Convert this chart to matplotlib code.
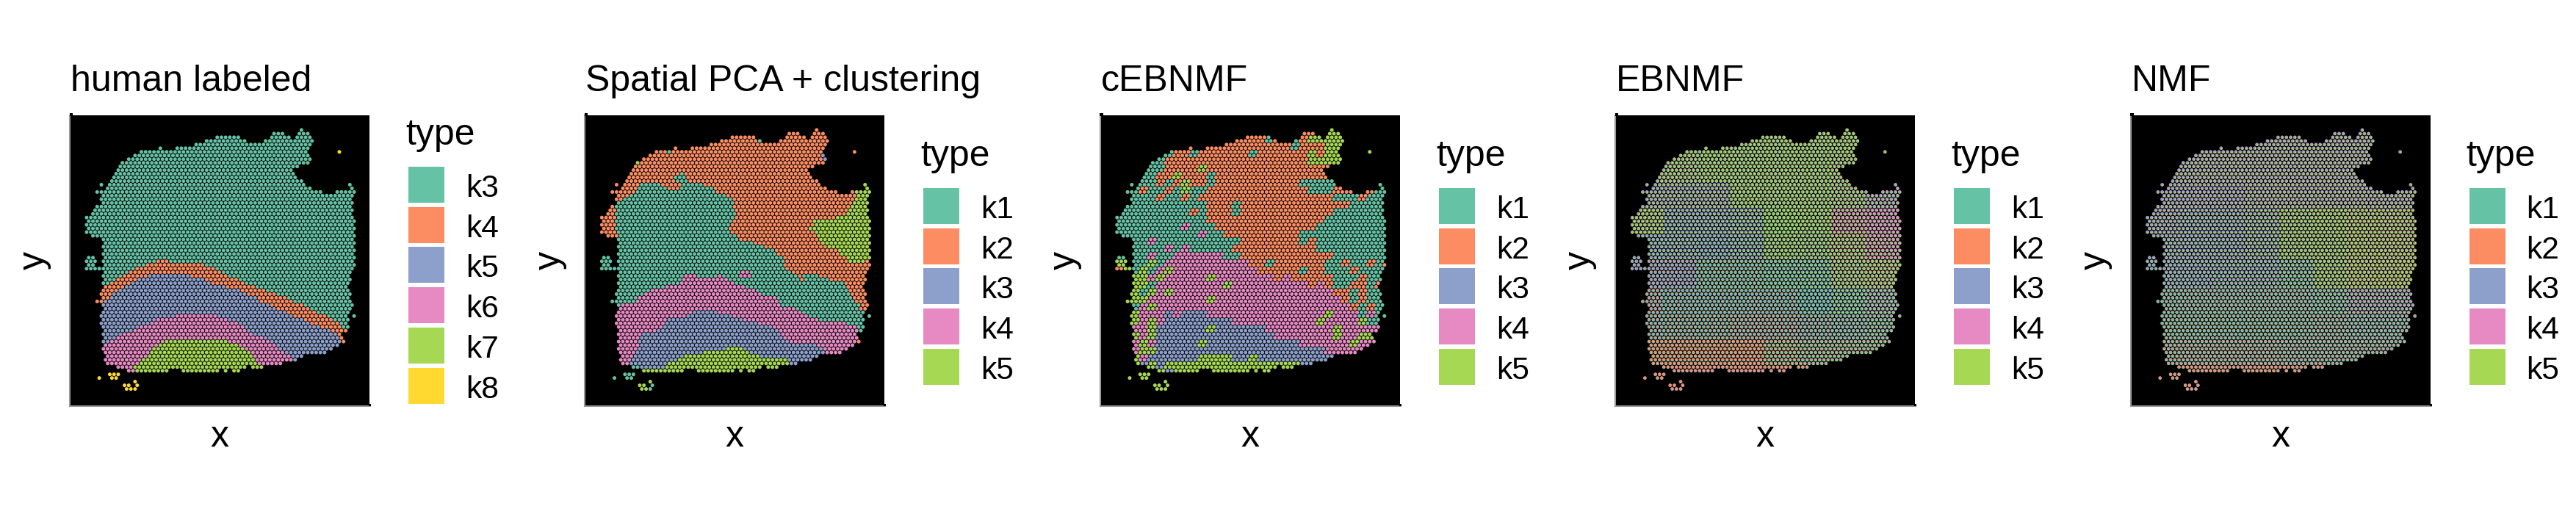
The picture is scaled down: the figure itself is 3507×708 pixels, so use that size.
import math
import matplotlib
matplotlib.use("Agg")
import matplotlib.pyplot as plt
from matplotlib.collections import PatchCollection
from matplotlib.patches import Rectangle, Wedge, Circle

plt.rcParams["font.family"] = ["Liberation Sans", "DejaVu Sans"]

W, H, DPI = 3507, 708, 300
SQ3 = math.sqrt(3)

TITLES = ["human labeled", "Spatial PCA + clustering", "cEBNMF", "EBNMF", "NMF"]
HUMAN_KEYS = ["k3", "k4", "k5", "k6", "k7", "k8"]
FACTOR_KEYS = ["k1", "k2", "k3", "k4", "k5"]
COLORS = ["#66C2A5", "#FC8D62", "#8DA0CB", "#E78AC3", "#A6D854", "#FFD92F"]

# Spots: for each array row, inclusive column spans (hex lattice: every 2nd column)
ROW_SPANS = [
    [(103, 103)], [(90, 94), (102, 106)], [(63, 73), (89, 97), (101, 107)], [(58, 76), (86, 108)],
    [(53, 107)], [(36, 36), (44, 106)], [(27, 105), (121, 121)], [(24, 106)], [(21, 107)], [(18, 106)],
    [(17, 101)], [(16, 98)], [(15, 99)], [(14, 100)], [(13, 103)], [(8, 8), (12, 104), (126, 126)],
    [(11, 105), (107, 107), (127, 127)], [(6, 6), (8, 8), (10, 112), (120, 128)], [(9, 127)], [(8, 126)],
    [(9, 127)], [(6, 126)], [(5, 127)], [(4, 126)], [(1, 127)], [(2, 128)], [(1, 127)], [(2, 128)],
    [(1, 127)], [(4, 128)], [(9, 127)], [(10, 128)], [(9, 127)], [(10, 128)], [(9, 127)],
    [(2, 4), (10, 128)], [(1, 5), (9, 127)], [(2, 4), (10, 128)], [(1, 7), (9, 127)], [(10, 126)],
    [(9, 125)], [(10, 126)], [(9, 125)], [(10, 124)], [(9, 125)], [(8, 126)], [(9, 125)],
    [(6, 6), (8, 8), (10, 126)], [(9, 127)], [(10, 126)], [(9, 125)], [(8, 124), (128, 128)], [(9, 125)],
    [(8, 124)], [(9, 125)], [(10, 124)], [(9, 121)], [(10, 122)], [(9, 123)], [(10, 120)], [(9, 117)],
    [(10, 114)], [(11, 103)], [(10, 100)], [(11, 93)], [(16, 76), (80, 84)],
    [(21, 39), (47, 63), (67, 67), (71, 73)], [(12, 16)], [(7, 7), (13, 15)], [(24, 24)],
    [(19, 21), (25, 25)], [(20, 24)],
]

# Human labels: per row, (legend index, last column of the run)
HUMAN_RUNS = {
    6: [(0, 120), (5, 999)], 36: [(0, 33), (1, 39), (0, 999)], 37: [(0, 28), (1, 56), (0, 999)],
    38: [(0, 24), (1, 61), (0, 999)], 39: [(0, 20), (1, 64), (0, 999)],
    40: [(0, 17), (1, 29), (2, 49), (1, 67), (0, 999)], 41: [(0, 14), (1, 24), (2, 56), (1, 72), (0, 999)],
    42: [(0, 11), (1, 21), (2, 59), (1, 75), (0, 999)], 43: [(1, 18), (2, 66), (1, 80), (0, 999)],
    44: [(1, 15), (2, 73), (1, 85), (0, 999)], 45: [(1, 12), (2, 76), (1, 90), (0, 999)],
    46: [(1, 11), (2, 81), (1, 95), (0, 999)], 47: [(1, 8), (2, 82), (1, 98), (0, 999)],
    48: [(2, 87), (1, 103), (0, 999)], 49: [(2, 90), (1, 106), (0, 999)],
    50: [(2, 95), (1, 109), (0, 999)], 51: [(2, 43), (3, 62), (2, 98), (1, 114), (0, 999)],
    52: [(2, 34), (3, 67), (2, 103), (1, 117), (0, 999)], 53: [(2, 31), (3, 72), (2, 106), (1, 120), (0, 999)],
    54: [(2, 26), (3, 75), (2, 111), (1, 121), (0, 999)], 55: [(2, 23), (3, 76), (2, 116), (1, 999)],
    56: [(2, 18), (3, 79), (2, 119), (1, 999)], 57: [(2, 15), (3, 84), (2, 120), (1, 999)],
    58: [(2, 12), (3, 37), (4, 67), (3, 87), (2, 121), (1, 999)], 59: [(3, 34), (4, 72), (3, 90), (2, 999)],
    60: [(3, 31), (4, 75), (3, 91), (2, 999)], 61: [(3, 30), (4, 78), (3, 94), (2, 999)],
    62: [(3, 29), (4, 79), (3, 97), (2, 999)], 63: [(3, 26), (4, 80), (3, 98), (2, 999)],
    64: [(3, 25), (4, 81), (3, 999)], 65: [(3, 23), (4, 999)], 66: [(3, 23), (4, 999)],
    67: [(5, 999)], 68: [(5, 999)], 69: [(5, 999)], 70: [(5, 999)], 71: [(5, 999)],
}

# Spatial PCA clusters, same encoding
PCA_RUNS = {
    12: [(1, 38), (0, 40), (1, 999)], 13: [(1, 35), (0, 41), (1, 999)], 14: [(1, 36), (0, 42), (1, 999)],
    15: [(1, 19), (0, 28), (1, 38), (0, 49), (1, 125), (4, 999)], 16: [(1, 18), (0, 32), (1, 38), (0, 53), (1, 125), (4, 999)],
    17: [(1, 17), (0, 55), (1, 121), (4, 999)], 18: [(1, 13), (0, 60), (1, 122), (4, 999)],
    19: [(1, 10), (0, 62), (1, 121), (4, 999)], 20: [(1, 8), (0, 63), (1, 120), (4, 999)],
    21: [(1, 7), (0, 63), (1, 119), (4, 999)], 22: [(1, 7), (0, 64), (1, 118), (4, 999)],
    23: [(1, 7), (0, 64), (1, 117), (4, 999)], 24: [(1, 7), (0, 64), (1, 112), (4, 999)],
    25: [(1, 7), (0, 63), (1, 101), (4, 999)], 26: [(1, 7), (0, 61), (1, 101), (4, 999)],
    27: [(1, 7), (0, 60), (1, 99), (4, 999)], 28: [(1, 7), (0, 61), (1, 102), (4, 999)],
    29: [(1, 9), (0, 64), (1, 103), (4, 999)], 30: [(0, 66), (1, 104), (4, 999)], 31: [(0, 72), (1, 105), (4, 999)],
    32: [(0, 78), (1, 108), (4, 999)], 33: [(0, 82), (1, 113), (4, 999)], 34: [(0, 84), (1, 114), (4, 999)],
    35: [(0, 86), (1, 117), (4, 999)], 36: [(0, 87), (1, 118), (4, 125), (1, 999)], 37: [(0, 87), (1, 999)],
    38: [(0, 88), (1, 999)], 39: [(0, 67), (3, 70), (0, 91), (1, 999)],
    40: [(0, 40), (3, 45), (0, 56), (3, 57), (0, 66), (3, 71), (0, 94), (1, 96), (0, 103), (1, 999)],
    41: [(0, 38), (3, 61), (0, 95), (1, 96), (0, 108), (1, 999)], 42: [(0, 37), (3, 64), (0, 115), (1, 999)],
    43: [(0, 31), (3, 68), (0, 116), (1, 999)], 44: [(0, 24), (3, 74), (0, 118), (1, 999)],
    45: [(0, 20), (3, 76), (0, 119), (1, 999)], 46: [(0, 18), (3, 84), (0, 120), (1, 999)],
    47: [(0, 16), (3, 85), (0, 121), (1, 999)], 48: [(0, 10), (3, 86), (0, 123), (1, 999)],
    49: [(0, 9), (3, 92), (0, 122), (1, 999)], 50: [(3, 43), (2, 56), (3, 96), (0, 999)],
    51: [(3, 41), (2, 63), (3, 99), (0, 999)], 52: [(3, 32), (2, 68), (3, 104), (0, 999)],
    53: [(3, 31), (2, 75), (3, 116), (0, 999)], 54: [(3, 30), (2, 81), (3, 121), (0, 999)],
    55: [(3, 27), (2, 84), (3, 122), (0, 999)], 56: [(3, 19), (2, 85), (3, 999)], 57: [(3, 18), (2, 86), (3, 999)],
    58: [(3, 18), (2, 90), (3, 122), (1, 999)], 59: [(3, 18), (2, 102), (3, 999)],
    60: [(3, 17), (2, 59), (4, 68), (2, 105), (3, 999)], 61: [(3, 16), (2, 48), (4, 71), (2, 107), (3, 999)],
    62: [(3, 15), (2, 40), (4, 75), (2, 105), (3, 999)], 63: [(3, 14), (2, 37), (4, 89), (2, 999)],
    64: [(3, 13), (2, 32), (4, 89), (2, 999)], 65: [(0, 18), (2, 31), (4, 999)], 66: [(4, 999)],
    67: [(0, 999)], 68: [(0, 999)], 69: [(4, 999)], 70: [(4, 24), (0, 999)], 71: [(4, 23), (0, 999)],
}
PCA_DEFAULT = 1
PCA_SINGLES = [(3, 76, 0), (6, 33, 0), (7, 106, 2), (8, 107, 2), (9, 18, 4)]

# cEBNMF: estimated dominant factor in blocks of 2 rows x 4 columns
CEBNMF_BLOCKS = [
    "......................OO.GGG.....",
    "..............OOOOTOOTOGGGGGG....",
    ".......O..OOOOOOOOOOOTOOOGGGG....",
    "......TOOTOOOOOOTOOOOOOGOGG......",
    "....TTOOOOOOOOOOOOOOOOOGG........",
    "...TTTOOOOGOOOOOOOOOOOO..........",
    "...TTOOGOOOTOOOOOOOOOOO..........",
    "..TTTOTOGOOTOOOOOOOOOOTT.......T.",
    ".TTOTTOTGTTOOOOOOOOOOOOTTTO...OTT",
    "..TTTOTTOTOOOOOOOOOOOOOOOOTTTOTTT",
    "..TTTTTTTTTOOOTOOOOOOOOOOOOOTTTTT",
    "TTTTTTTTTOTOOOTOOOOOOOOOOOTTTTTTT",
    "TTTTTTTTTTTOOOOOOOOOOOOOOTTTTTTTT",
    "TTTTTTTTPTTTOOOOOOOOOOOOTTTTTTTTT",
    "TTTTTTTTTTPTTOOOOOOOOOTTTTTTTTTTT",
    "..TTPTTTTTTTTTTOOOOOOOTOTTTTTTTTT",
    "..TTTTPTPTTTTTOOOOOOOOOOTTTTTTTTT",
    "TT.TPTTPPPPPPTTOOOOOOOOOOOTTTTTTT",
    "GGTTGTPPPPPPPPPPOOTOOOOOOTTOTTOTO",
    "OGTGTPGPPPPPPPPPPOOOOOTOOTTTOTTTO",
    "...GPGPPPPPGPPPPPPPOPOOOOOTTTOTTO",
    "...GTPPPPPPPPGPPPPPPPPPOPOTTOOTO.",
    "..GTGPGPPPPPPPPPPPPPPPPPPPOOTOTT.",
    "..GGPPPPPPPGPPPPPPPPPPPPPPPOTOTT.",
    "..TPGPPPPPPPPPPPPPPPPPPPPPPPOTOTT",
    "..GPPPBPBBBPPPPPPPPPPPPPPGPPPTPTT",
    "..GPGPBBBBBBBBPPPPPPPPPPGPPPPGTT.",
    "..PPGBBBBBBGBBBBBBPPPPPPPPGPPPP..",
    "..GPGBBBBBBBBBBBBBBPPPPPPPGPPG...",
    "..PGPBBBBBGBBBBBBBBBBBPPPPPPGP...",
    "..PGGBBBBBBBBBBBBBBBBBBBBPPP.....",
    "..GPBBBBBBGGGGBBGBBBBBBBB........",
    "..GBGBGGGGGGGGGGGGGGGGBBB........",
    ".GGGGGBGGGGGGGGGGG...............",
    ".GGGGG...........................",
    ".GGGGGG..........................",
]
LETTERS = "TOBPG"

# EBNMF and NMF: estimated mean loadings (tenths) in 10 x 8 zones of the slide
EB_K1 = ["11111111", "11111111", "11111111", "12222211", "22332211", "33444311", "35555532", "45544543", "33333333", "22222222"]
EB_K2 = ["00000000", "00000000", "11100000", "11110010", "11111000", "22221000", "32222000", "33333211", "44443222", "55555555"]
EB_K3 = ["33333333", "33333333", "44433333", "35542222", "55543322", "44333332", "22222333", "21111122", "11100111", "11111111"]
EB_K4 = ["11111111", "22111122", "11111123", "10000135", "00000134", "11000123", "21111112", "11122222", "11122222", "22222222"]
EB_K5 = ["55555555", "44555544", "33355543", "42235532", "22124443", "00112344", "00000133", "00000012", "11112222", "00000000"]
NMF_K1 = ["11111111", "11111111", "11111111", "22222211", "22222211", "33333211", "43333322", "44444333", "33333333", "22222222"]
NMF_K2 = ["11111111", "11111111", "11111111", "11111111", "11111111", "11111111", "22222111", "22222211", "33332222", "44444444"]
NMF_K3 = ["33333333", "33333333", "44433333", "44433222", "45543322", "44443322", "33333333", "22222222", "22222222", "22222222"]
NMF_K4 = ["22222222", "22222222", "22222222", "21111122", "11111122", "11111122", "11111122", "11111222", "22222222", "22222222"]
NMF_K5 = ["33333333", "33333333", "22233333", "22234443", "22234443", "11222444", "11111222", "11111111", "11111111", "11111111"]

spots = [(r, c) for r, spans in enumerate(ROW_SPANS) for a, b in spans for c in range(a, b + 1, 2)]


def run_label(table, default, r, c):
    for lab, last in table.get(r, [(default, 999)]):
        if c <= last:
            return lab
    return default


def block_label(r, c):
    row = CEBNMF_BLOCKS[r // 2]
    i = min(c // 4, len(row) - 1)
    for d in range(len(row)):
        for j in (i - d, i + d):
            if 0 <= j < len(row) and row[j] != ".":
                return LETTERS.index(row[j])
    return 0


def human_labels():
    return [run_label(HUMAN_RUNS, 0, r, c) for r, c in spots]


def pca_labels():
    singles = {(r, c): lab for r, c, lab in PCA_SINGLES}
    return [singles.get((r, c), run_label(PCA_RUNS, PCA_DEFAULT, r, c)) for r, c in spots]


def zone_shares(grids, r, c):
    zr = min(r * 10 // 72, 9)
    zc = min(c // 16, 7)
    return [int(g[zr][zc]) for g in grids]


fig = plt.figure(figsize=(W / DPI, H / DPI), dpi=DPI, facecolor="white")
PERIOD = 701.4
PX_PER_UNIT = 2.867
GREY = "#9a9a9a"
PIE_R = 0.78


def fx(px):
    return px / W


def fy(px):
    return 1 - px / H


def frect(x0, y0, x1, y1, color, z=1):
    fig.add_artist(Rectangle((fx(x0), fy(y1)), (x1 - x0) / W, (y1 - y0) / H, transform=fig.transFigure,
                             facecolor=color, edgecolor="none", zorder=z))


def draw_panel(i, title, keys, labels=None, shares=None):
    left = 95 + PERIOD * i
    right, top, bottom = left + 408, 157, 553
    ax = fig.add_axes([fx(left), fy(bottom), 408 / W, (bottom - top) / H], facecolor="black")
    ax.set_xlim(-7.0, -7.0 + 408 / PX_PER_UNIT)
    ax.set_ylim((bottom - 177) / PX_PER_UNIT, (top - 177) / PX_PER_UNIT)
    ax.set_xticks([])
    ax.set_yticks([])
    for s in ("top", "right"):
        ax.spines[s].set_visible(False)
    for s in ("left", "bottom"):
        ax.spines[s].set_color(GREY)
        ax.spines[s].set_linewidth(0.5)
    xs = [c for r, c in spots]
    ys = [r * SQ3 for r, c in spots]
    if labels is not None:
        ax.scatter(xs, ys, s=1.45, c=[COLORS[k] for k in labels], edgecolors="none", linewidths=0)
    else:
        base, basecols, patches, cols = [], [], [], []
        for (r, c), x, y in zip(spots, xs, ys):
            vals = zone_shares(shares, r, c)
            tot = sum(vals)
            base.append(Circle((x, y), PIE_R))
            basecols.append(COLORS[vals.index(max(vals))])
            start = 90.0
            for k, v in enumerate(vals):
                if v:
                    sweep = 360.0 * v / tot
                    patches.append(Wedge((x, y), PIE_R, start, start + sweep))
                    cols.append(COLORS[k])
                    start += sweep
        ax.add_collection(PatchCollection(base, facecolors=basecols, edgecolors="none", linewidths=0))
        ax.add_collection(PatchCollection(patches, facecolors=cols, edgecolors="none", linewidths=0))
    # small corner stubs where the black panel pokes past the axis lines
    frect(left - 0.5, 154.3, left + 4, 157.5, "black", 3)
    frect(right - 1, 549.5, right + 2, 552.7, "black", 3)
    frect(right - 1, 552.5, right + 2, 554, GREY, 3)
    fig.text(fx(left + 1), fy(124), title, fontsize=12, ha="left", va="baseline", color="black")
    fig.text(fx(left + 204), fy(608), "x", fontsize=12, ha="center", va="baseline", color="black")
    fig.text(fx(left - 48), fy(355), "y", fontsize=12, rotation=90, ha="center", va="center", color="black")
    n = len(keys)
    first = 502 - 55 * (n - 1) if n == 6 else 256
    fig.text(fx(left + 457), fy(first - 30), "type", fontsize=12, ha="left", va="baseline", color="black")
    for j, key in enumerate(keys):
        y0 = first + 54.7 * j
        frect(left + 461, y0, left + 510, y0 + 49, COLORS[j])
        fig.text(fx(left + 539), fy(y0 + 41), key, fontsize=10.2, ha="left", va="baseline", color="black")


cebnmf = [block_label(r, c) for r, c in spots]
draw_panel(0, TITLES[0], HUMAN_KEYS, labels=human_labels())
draw_panel(1, TITLES[1], FACTOR_KEYS, labels=pca_labels())
draw_panel(2, TITLES[2], FACTOR_KEYS, labels=cebnmf)
draw_panel(3, TITLES[3], FACTOR_KEYS, shares=[EB_K1, EB_K2, EB_K3, EB_K4, EB_K5])
draw_panel(4, TITLES[4], FACTOR_KEYS, shares=[NMF_K1, NMF_K2, NMF_K3, NMF_K4, NMF_K5])

fig.savefig("out.png", dpi=DPI)
